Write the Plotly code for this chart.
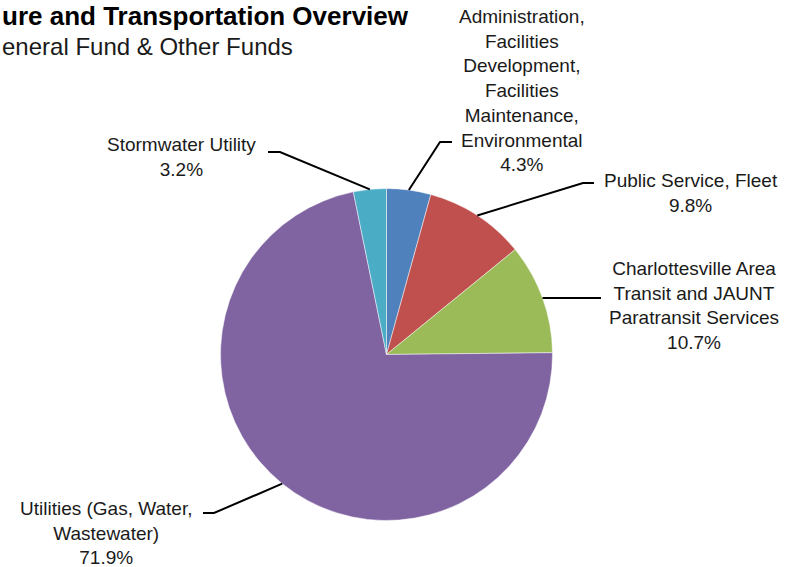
import math
import plotly.graph_objects as go

# ---- data ----
categories = [
    "Administration, Facilities Development, Facilities Maintenance, Environmental",
    "Public Service, Fleet",
    "Charlottesville Area Transit and JAUNT Paratransit Services",
    "Utilities (Gas, Water, Wastewater)",
    "Stormwater Utility",
]
label_lines = [
    "Administration,<br>Facilities<br>Development,<br>Facilities<br>Maintenance,<br>Environmental",
    "Public Service, Fleet",
    "Charlottesville Area<br>Transit and JAUNT<br>Paratransit Services",
    "Utilities (Gas, Water,<br>Wastewater)",
    "Stormwater Utility",
]
percents = [4.3, 9.8, 10.7, 71.9, 3.2]
colors = ["#4F81BD", "#C0504D", "#9BBB59", "#8064A2", "#4BACC6"]

# title and subtitle as visible in the (cropped) reference
title = "ure and Transportation Overview"
subtitle = "eneral Fund & Other Funds"

# ---- layout constants (pixels) ----
W, H = 788, 567
CX, CY, R = 386.5, 354.5, 166.0

# label block centers and leader-line elbow/end points, per slice
label_pos = [(522, 90), (691, 193), (694, 305), (106, 533), (181, 157)]
leader_pts = [
    [(440, 142), (452, 142)],
    [(583, 183), (594, 183)],
    [(601, 298)],
    [(214, 513), (203, 513)],
    [(280, 152), (268, 152)],
]


def px(x):
    return x / W


def py(y):
    return 1 - y / H


fig = go.Figure()
fig.add_trace(go.Pie(
    labels=categories,
    values=percents,
    sort=False,
    direction="clockwise",
    rotation=0,
    marker=dict(colors=colors, line=dict(color="rgba(255,255,255,0.6)", width=0.8)),
    textinfo="none",
    hoverinfo="label+percent",
    showlegend=False,
    domain=dict(x=[px(CX - R), px(CX + R)], y=[py(CY + R), py(CY - R)]),
))

font = dict(family="Liberation Sans, Arial, sans-serif", size=19, color="#1a1a1a")

total = sum(percents)
cum = 0.0
annotations = []
shapes = []
for i, v in enumerate(percents):
    mid = (cum + v / 2) / total
    cum += v
    ang = 2 * math.pi * mid
    ex = CX + R * math.sin(ang)
    ey = CY - R * math.cos(ang)
    pts = [(ex, ey)] + leader_pts[i]
    path = "M " + " L ".join(f"{px(x):.5f},{py(y):.5f}" for x, y in pts)
    shapes.append(dict(type="path", xref="paper", yref="paper", path=path,
                       line=dict(color="#000000", width=2)))
    lx, ly = label_pos[i]
    annotations.append(dict(
        xref="paper", yref="paper", x=px(lx), y=py(ly),
        xanchor="center", yanchor="middle", align="center",
        text=f"{label_lines[i]}<br>{v:.1f}%", showarrow=False, font=font,
    ))

annotations.append(dict(
    xref="paper", yref="paper", x=px(0), y=py(16), xanchor="left", yanchor="middle",
    text=f"<b>{title}</b>", showarrow=False,
    font=dict(family="Liberation Sans, Arial, sans-serif", size=26, color="#000000"),
))
annotations.append(dict(
    xref="paper", yref="paper", x=px(0), y=py(46), xanchor="left", yanchor="middle",
    text=subtitle, showarrow=False,
    font=dict(family="Liberation Sans, Arial, sans-serif", size=24, color="#1a1a1a"),
))

fig.update_layout(
    width=W, height=H,
    margin=dict(l=0, r=0, t=0, b=0),
    paper_bgcolor="white", plot_bgcolor="white",
    annotations=annotations, shapes=shapes,
)

fig.write_html("out.html")
